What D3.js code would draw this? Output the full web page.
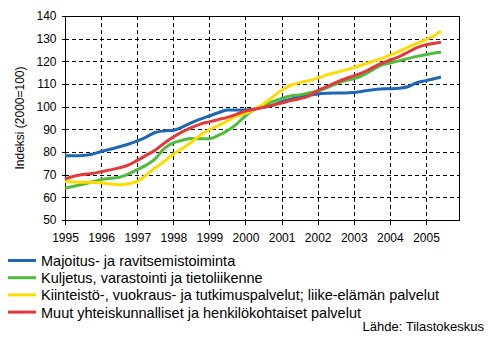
<!DOCTYPE html>
<html>
<head>
<meta charset="utf-8">
<script src="https://cdn.jsdelivr.net/npm/d3@7"></script>
<style>
  body { margin: 0; background: #fff; }
  svg { display: block; }
  text { font-family: "Liberation Sans", Arial, sans-serif; fill: #000; }
</style>
</head>
<body>
<svg id="chart" width="497" height="340"></svg>
<script>
// Quarterly observations (start month of each quarter), last one June 2005
const periods = [
  "1995-01","1995-04","1995-07","1995-10",
  "1996-01","1996-04","1996-07","1996-10",
  "1997-01","1997-04","1997-07","1997-10",
  "1998-01","1998-04","1998-07","1998-10",
  "1999-01","1999-04","1999-07","1999-10",
  "2000-01","2000-04","2000-07","2000-10",
  "2001-01","2001-04","2001-07","2001-10",
  "2002-01","2002-04","2002-07","2002-10",
  "2003-01","2003-04","2003-07","2003-10",
  "2004-01","2004-04","2004-07","2004-10",
  "2005-01","2005-04","2005-06"
];

const majoitus = [78.4,78.4,78.5,79.0, 80.2,81.2,82.3,83.4, 84.9,86.6,88.6,89.3,
  89.6,91.0,92.9,94.5, 95.9,97.3,98.5,98.5, 98.5,99.0,99.7,100.6,
  102.2,103.3,104.3,105.0, 105.6,105.9,106.0,106.0, 106.2,106.8,107.4,107.8,
  107.9,108.1,108.8,110.6, 111.5,112.4,113.1];

const kuljetus = [64.0,64.9,65.8,66.8, 67.8,68.4,68.8,70.2, 72.2,74.2,77.0,81.5,
  84.0,85.2,86.0,85.8, 85.9,87.3,89.4,92.2, 96.0,98.8,100.6,102.2,
  103.6,104.7,105.2,106.0, 106.9,108.3,110.0,111.4, 112.3,113.8,116.0,118.2,
  119.3,120.2,121.2,122.2, 123.0,123.7,124.0];

const kiinteisto = [66.9,66.8,66.7,66.6, 66.4,65.9,65.6,66.0, 67.0,69.8,73.0,75.8,
  79.0,81.5,84.3,87.4, 89.8,91.6,93.6,95.8, 97.0,98.8,101.2,104.2,
  107.2,109.4,110.6,111.5, 112.6,114.0,115.0,116.1, 117.2,118.5,119.8,121.1,
  122.7,124.3,126.2,127.9, 129.6,131.5,133.4];

const muut = [68.1,69.3,70.1,70.5, 71.3,72.1,73.0,74.2, 76.3,78.5,80.8,83.9,
  86.6,88.9,90.7,92.3, 93.3,94.3,95.3,96.6, 98.1,98.8,99.7,100.6,
  101.6,102.7,103.5,104.7, 107.0,108.8,110.6,112.2, 113.6,115.0,117.0,119.0,
  120.5,122.0,124.0,126.0, 127.3,128.0,128.4];

const seriesNames = [
  "Majoitus- ja ravitsemistoiminta",
  "Kuljetus, varastointi ja tietoliikenne",
  "Kiinteistö-, vuokraus- ja tutkimuspalvelut; liike-elämän palvelut",
  "Muut yhteiskunnalliset ja henkilökohtaiset palvelut"
];
const seriesValues = [majoitus, kuljetus, kiinteisto, muut];
const seriesColors = ["#1f66b5", "#50bb3d", "#ffdc00", "#e03a3a"];

const yearTicks = ["1995","1996","1997","1998","1999","2000","2001","2002","2003","2004","2005"];
const valueTicks = [50, 60, 70, 80, 90, 100, 110, 120, 130, 140];

const yTitle = "Indeksi (2000=100)";
const sourceText = "Lähde: Tilastokeskus";

// layout
const plot = { left: 65, top: 16, right: 459, bottom: 220 };
const parseMonth = d3.timeParse("%Y-%m");
const parseYear = d3.timeParse("%Y");

const svg = d3.select("#chart");

const x = d3.scaleTime()
  .domain([parseYear("1995"), parseMonth("2005-12")])
  .range([plot.left, plot.right]);
const y = d3.scaleLinear()
  .domain([50, 140])
  .range([plot.bottom, plot.top]);

const yearDates = yearTicks.map(parseYear);

// dashed grid
const grid = svg.append("g")
  .attr("stroke", "#000")
  .attr("stroke-width", 1)
  .attr("stroke-dasharray", "4,3")
  .attr("shape-rendering", "crispEdges");
grid.selectAll("line.h")
  .data(valueTicks.filter(v => v > 50 && v < 140))
  .join("line")
  .attr("x1", plot.left).attr("x2", plot.right)
  .attr("y1", d => Math.round(y(d)) + 0.5).attr("y2", d => Math.round(y(d)) + 0.5);
grid.selectAll("line.v")
  .data(yearDates.slice(1))
  .join("line")
  .attr("y1", plot.top).attr("y2", plot.bottom)
  .attr("x1", d => Math.round(x(d)) + 0.5).attr("x2", d => Math.round(x(d)) + 0.5);

// frame
svg.append("rect")
  .attr("x", plot.left + 0.5).attr("y", plot.top + 0.5)
  .attr("width", plot.right - plot.left).attr("height", plot.bottom - plot.top)
  .attr("fill", "none").attr("stroke", "#000").attr("stroke-width", 1)
  .attr("shape-rendering", "crispEdges");

// axes
const yAxis = d3.axisLeft(y).tickValues(valueTicks).tickSize(4).tickPadding(5)
  .tickFormat(d3.format("d"));
const yG = svg.append("g").attr("transform", `translate(${plot.left + 0.5},0)`).call(yAxis);
yG.select(".domain").remove();
yG.selectAll("line").attr("shape-rendering", "crispEdges");
yG.selectAll("text").attr("font-size", 12).attr("font-family", null).attr("fill", "#000");

const xAxis = d3.axisBottom(x).tickValues(yearDates).tickSize(4).tickPadding(9)
  .tickFormat(d3.timeFormat("%Y"));
const xG = svg.append("g").attr("transform", `translate(0,${plot.bottom + 0.5})`).call(xAxis);
xG.select(".domain").remove();
xG.selectAll("line").attr("shape-rendering", "crispEdges");
xG.selectAll("text").attr("font-size", 12).attr("font-family", null).attr("fill", "#000");

// y axis title
svg.append("text")
  .attr("transform", `translate(24,${(plot.top + plot.bottom) / 2}) rotate(-90)`)
  .attr("text-anchor", "middle")
  .attr("font-size", 12)
  .text(yTitle);

// series lines
const line = d3.line()
  .x((d, i) => x(parseMonth(periods[i])))
  .y(d => y(d))
  .curve(d3.curveMonotoneX);

svg.append("g").selectAll("path")
  .data(seriesValues)
  .join("path")
  .attr("d", d => line(d))
  .attr("fill", "none")
  .attr("stroke", (d, i) => seriesColors[i])
  .attr("stroke-width", 3)
  .attr("stroke-linejoin", "round");

// legend
const legend = svg.append("g");
const legendRows = legend.selectAll("g")
  .data(seriesNames)
  .join("g")
  .attr("transform", (d, i) => `translate(0,${266 + i * 17.2})`);
legendRows.append("line")
  .attr("x1", 8).attr("x2", 36)
  .attr("y1", -5.5).attr("y2", -5.5)
  .attr("stroke", (d, i) => seriesColors[i])
  .attr("stroke-width", 3);
legendRows.append("text")
  .attr("x", 41)
  .attr("font-size", 14.5)
  .text(d => d);

// source note
svg.append("text")
  .attr("x", 484).attr("y", 331)
  .attr("text-anchor", "end")
  .attr("font-size", 13)
  .text(sourceText);
</script>
</body>
</html>
